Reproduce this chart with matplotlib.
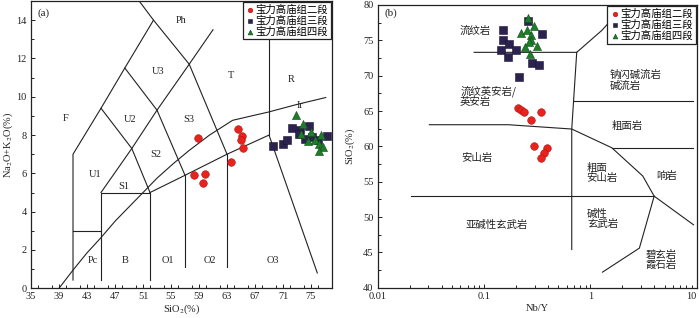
import matplotlib

matplotlib.use("Agg")
import matplotlib.pyplot as plt
from matplotlib.ticker import MultipleLocator, FixedLocator, NullFormatter

plt.rcParams["font.family"] = ["Liberation Serif", "Noto Sans CJK SC"]
plt.rcParams["mathtext.fontset"] = "stix"

# series names (legend)
series_names = ["宝力高庙组二段", "宝力高庙组三段", "宝力高庙组四段"]

# (a) TAS data: SiO2, Na2O+K2O
tas_red_x = [58.9, 64.6, 65.2, 65.0, 65.3, 58.3, 59.9, 59.6, 63.5]
tas_red_y = [7.84, 8.30, 7.93, 7.72, 7.34, 5.93, 5.98, 5.49, 6.57]
tas_sq_x = [69.6, 71.0, 71.5, 72.3, 73.4, 74.7, 73.3, 74.2, 75.2, 77.3, 76.0]
tas_sq_y = [7.41, 7.51, 7.72, 8.39, 8.28, 8.46, 8.04, 7.81, 7.90, 7.93, 7.72]
tas_tri_x = [72.8, 73.9, 73.5, 75.0, 74.5, 75.6, 76.4, 76.1, 76.7, 76.2]
tas_tri_y = [9.03, 8.56, 8.07, 8.16, 7.69, 7.76, 7.98, 7.55, 7.37, 7.16]

# (b) Nb/Y vs SiO2
wf_red_x = [0.208, 0.221, 0.239, 0.344, 0.277, 0.297, 0.394, 0.367, 0.342]
wf_red_y = [65.4, 65.15, 64.8, 64.9, 63.7, 60.0, 59.7, 59.0, 58.3]
wf_sq_x = [0.150, 0.152, 0.173, 0.144, 0.200, 0.169, 0.258, 0.348, 0.281, 0.331, 0.215]
wf_sq_y = [76.4, 75.0, 74.5, 73.7, 73.7, 72.6, 77.8, 75.96, 71.8, 71.5, 69.8]
wf_tri_x = [0.258, 0.221, 0.252, 0.295, 0.275, 0.277, 0.267, 0.243, 0.317, 0.270]
wf_tri_y = [78.2, 76.0, 76.5, 77.0, 75.7, 75.1, 74.8, 74.1, 74.2, 73.0]

# TAS field boundaries
tas_lines = [
    [(41, 0.43), (41, 7), (45, 9.4), (48.4, 11.5), (52.5, 14), (50.45, 15)],
    [(41, 3), (45, 3)],
    [(45, 0.43), (45, 5), (52, 5), (52, 0.43)],
    [(52, 5), (57, 5.9), (63, 7), (69, 8), (75.9, 0.8)],
    [(57, 5.9), (57, 1.13)],
    [(63, 7), (63, 1.13)],
    [(45, 5), (49.4, 7.3), (53, 9.3), (57.6, 11.7), (61, 13.5)],
    [(52, 5), (49.4, 7.3), (45, 9.4)],
    [(57, 5.9), (53, 9.3), (48.4, 11.5)],
    [(63, 7), (57.6, 11.7), (52.5, 14)],
    [(69, 8), (69, 15)],
]
# alkaline / subalkaline divide
alk_x = [39, 41, 43, 44.96, 47, 49, 50.9, 53, 55.3, 57.6, 60.5, 63.8, 66.5, 68.9, 73, 77.1]
alk_y = [0, 0.95, 1.85, 2.63, 3.5, 4.25, 4.96, 5.75, 6.5, 7.2, 8.0, 8.77, 9.0, 9.2, 9.6, 9.96]

tas_labels = [
    ("Ph", 56.4, 14.0), ("U3", 53.2, 11.3), ("T", 63.5, 11.1), ("R", 72.2, 10.9),
    ("Ir", 73.5, 9.55), ("F", 40.0, 8.86), ("U2", 49.1, 8.8), ("S3", 57.6, 8.8),
    ("S2", 52.8, 7.0), ("U1", 44.1, 5.94), ("S1", 48.3, 5.31), ("Pc", 43.9, 1.44),
    ("B", 48.5, 1.44), ("O1", 54.5, 1.44), ("O2", 60.5, 1.44), ("O3", 69.6, 1.44),
]

# Winchester & Floyd boundaries
wf_lines = [
    [(0.0806, 73.3), (0.744, 73.3), (1.28, 76.4), (1.6, 78.0)],
    [(0.744, 73.3), (0.668, 62.45), (0.668, 45.4)],
    [(0.692, 66.4), (9.3, 66.4)],
    [(0.0306, 63.06), (0.169, 63.06), (0.668, 62.45), (1.59, 59.8), (3.11, 55.8),
     (3.98, 52.95), (9.33, 48.9)],
    [(1.59, 59.8), (9.3, 59.8)],
    [(0.0206, 52.95), (3.98, 52.95)],
    [(3.98, 52.95), (2.89, 45.6), (1.30, 42.2)],
]
wf_center_labels = [
    ("流纹岩", 0.0823, 76.3), ("粗面岩", 2.2, 62.9), ("安山岩", 0.085, 58.4),
    ("响岩", 5.24, 55.8), ("亚碱性玄武岩", 0.132, 48.9),
]
wf_left_labels = [
    ("钠闪碱流岩\n碱流岩", 1.53, 69.35), ("流纹英安岩/\n英安岩", 0.0595, 67.1),
    ("粗面\n安山岩", 0.912, 56.2), ("碱性\n玄武岩", 0.93, 49.7),
    ("碧玄岩\n霞石岩", 3.28, 43.85),
]

red = "#e8231e"
navy = "#2b2250"
green = "#1e7d2a"
lc = "#222222"

fig = plt.figure(figsize=(7, 3.18), dpi=100)
ax1 = fig.add_axes([0.0443, 0.0934, 0.43, 0.9035])
ax2 = fig.add_axes([0.5396, 0.0953, 0.4557, 0.889])


def style_axis(ax):
    for s in ax.spines.values():
        s.set_linewidth(0.9)
        s.set_color(lc)
    ax.tick_params(which="both", direction="in", labelsize=7.5, colors=lc,
                   width=0.7, pad=3)
    ax.tick_params(which="major", length=3)
    ax.tick_params(which="minor", length=2)


# ---- (a) TAS ----
for line in tas_lines:
    xs = [p[0] for p in line]
    ys = [p[1] for p in line]
    ax1.plot(xs, ys, color=lc, lw=0.8, clip_on=True)
ax1.plot(alk_x, alk_y, color=lc, lw=0.8)
for txt, x, y in tas_labels:
    ax1.text(x, y, txt, fontsize=7.5, ha="center", va="center", color=lc)
ax1.text(35.9, 14.35, "(a)", fontsize=8, ha="left", va="center", color=lc)

ax1.scatter(tas_red_x, tas_red_y, s=30, marker="o", color=red, edgecolors="#b01010",
            linewidths=0.4, zorder=3, label=series_names[0])
ax1.scatter(tas_sq_x, tas_sq_y, s=30, marker="s", color=navy, edgecolors="#1a1535",
            linewidths=0.4, zorder=3, label=series_names[1])
ax1.scatter(tas_tri_x, tas_tri_y, s=34, marker="^", color=green, edgecolors="#0f4d17",
            linewidths=0.4, zorder=4, label=series_names[2])

ax1.set_xlim(35, 78)
ax1.set_ylim(0, 15)
ax1.xaxis.set_major_locator(FixedLocator(list(range(35, 78, 4))))
ax1.xaxis.set_minor_locator(MultipleLocator(2))
ax1.yaxis.set_major_locator(MultipleLocator(2))
ax1.yaxis.set_minor_locator(MultipleLocator(1))
style_axis(ax1)
ax1.set_xlabel("SiO$_2$(%)", fontsize=7.5, labelpad=1, color=lc)
ax1.set_ylabel("Na$_2$O+K$_2$O(%)", fontsize=7.5, labelpad=1, color=lc)

# ---- (b) Nb/Y ----
for line in wf_lines:
    xs = [p[0] for p in line]
    ys = [p[1] for p in line]
    ax2.plot(xs, ys, color=lc, lw=0.8)
for txt, x, y in wf_center_labels:
    ax2.text(x, y, txt, fontsize=7.5, ha="center", va="center", color=lc,
             family=["Noto Sans CJK SC"])
for txt, x, y in wf_left_labels:
    ax2.text(x, y, txt, fontsize=7.5, ha="left", va="center", color=lc,
             linespacing=1.0, family=["Noto Sans CJK SC", "DejaVu Sans"])
ax2.text(0.0117, 78.8, "(b)", fontsize=8, ha="left", va="center", color=lc)

ax2.scatter(wf_red_x, wf_red_y, s=30, marker="o", color=red, edgecolors="#b01010",
            linewidths=0.4, zorder=3, label=series_names[0])
ax2.scatter(wf_sq_x, wf_sq_y, s=30, marker="s", color=navy, edgecolors="#1a1535",
            linewidths=0.4, zorder=3, label=series_names[1])
ax2.scatter(wf_tri_x, wf_tri_y, s=34, marker="^", color=green, edgecolors="#0f4d17",
            linewidths=0.4, zorder=4, label=series_names[2])

ax2.set_xscale("log")
ax2.set_xlim(0.01, 10)
ax2.set_ylim(40, 80)
ax2.set_xticks([0.01, 0.1, 1, 10])
ax2.set_xticklabels(["0.01", "0.1", "1", "10"])
ax2.get_xticklabels()[-1].set_ha("right")
ax2.xaxis.set_minor_formatter(NullFormatter())
ax2.yaxis.set_major_locator(MultipleLocator(5))
ax2.yaxis.set_minor_locator(MultipleLocator(2.5))
style_axis(ax2)
ax2.set_xlabel("Nb/Y", fontsize=7.5, labelpad=2, color=lc)
ax2.set_ylabel("SiO$_2$(%)", fontsize=7.5, labelpad=4, color=lc)

for ax in (ax1, ax2):
    leg = ax.legend(loc="upper right", borderaxespad=0.1,
                    prop={"family": ["Noto Sans CJK SC"], "size": 7.5},
                    handletextpad=0.1, handlelength=0.9, labelspacing=0.05,
                    borderpad=0.25, markerscale=0.6, fancybox=False, framealpha=1)
    leg.get_frame().set_edgecolor(lc)
    leg.get_frame().set_linewidth(0.9)
    leg.set_zorder(10)

fig.savefig("out.png", dpi=100)
